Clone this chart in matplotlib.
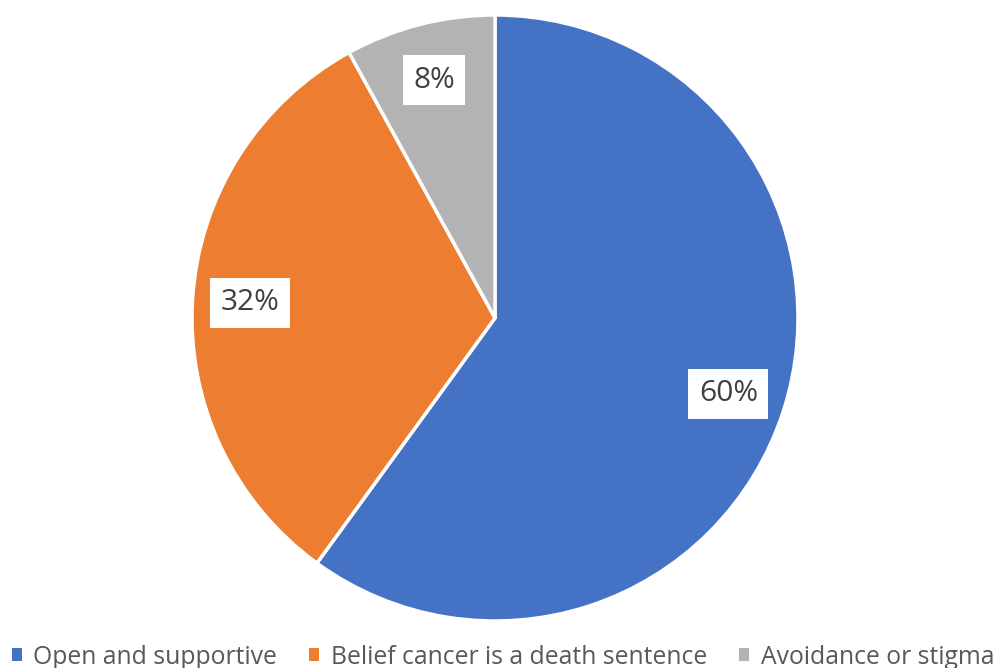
import matplotlib
matplotlib.use("Agg")
import matplotlib.pyplot as plt
from matplotlib.patches import Patch

categories = ["Open and supportive", "Belief cancer is a death sentence", "Avoidance or stigma"]
values = [60, 32, 8]
colors = ["#4472C4", "#ED7D31", "#B3B3B3"]

plt.rcParams['font.family'] = ['Open Sans', 'DejaVu Sans']

fig = plt.figure(figsize=(10.03, 6.68), dpi=100)
W, H = 1003, 668
cx, cy, r = 495, 318, 303
ax = fig.add_axes([(cx - r) / W, (H - cy - r) / H, 2 * r / W, 2 * r / H])

wedges, texts, autotexts = ax.pie(
    values, colors=colors, startangle=90, counterclock=False, radius=1,
    autopct=lambda p: f"{p:.0f}%", pctdistance=0.81,
    wedgeprops=dict(edgecolor="white", linewidth=2.5),
    textprops=dict(fontsize=21.5, color="#404040"))
for t in autotexts:
    t.set_bbox(dict(facecolor="white", edgecolor="none", boxstyle="square,pad=0.35"))
ax.set_aspect('auto')
ax.set_xlim(-1, 1)
ax.set_ylim(-1, 1)
ax.axis('off')

handles = [Patch(facecolor=c, edgecolor="none") for c in colors]
leg = fig.legend(handles, categories, loc="center", bbox_to_anchor=(503 / W, 1 - 657 / H),
                 ncol=3, frameon=False, fontsize=17.8, handlelength=0.4, handleheight=0.4,
                 handletextpad=0.47, columnspacing=1.3, borderpad=0, borderaxespad=0)
for t in leg.get_texts():
    t.set_color("#595959")

fig.savefig("out.png", dpi=100)
